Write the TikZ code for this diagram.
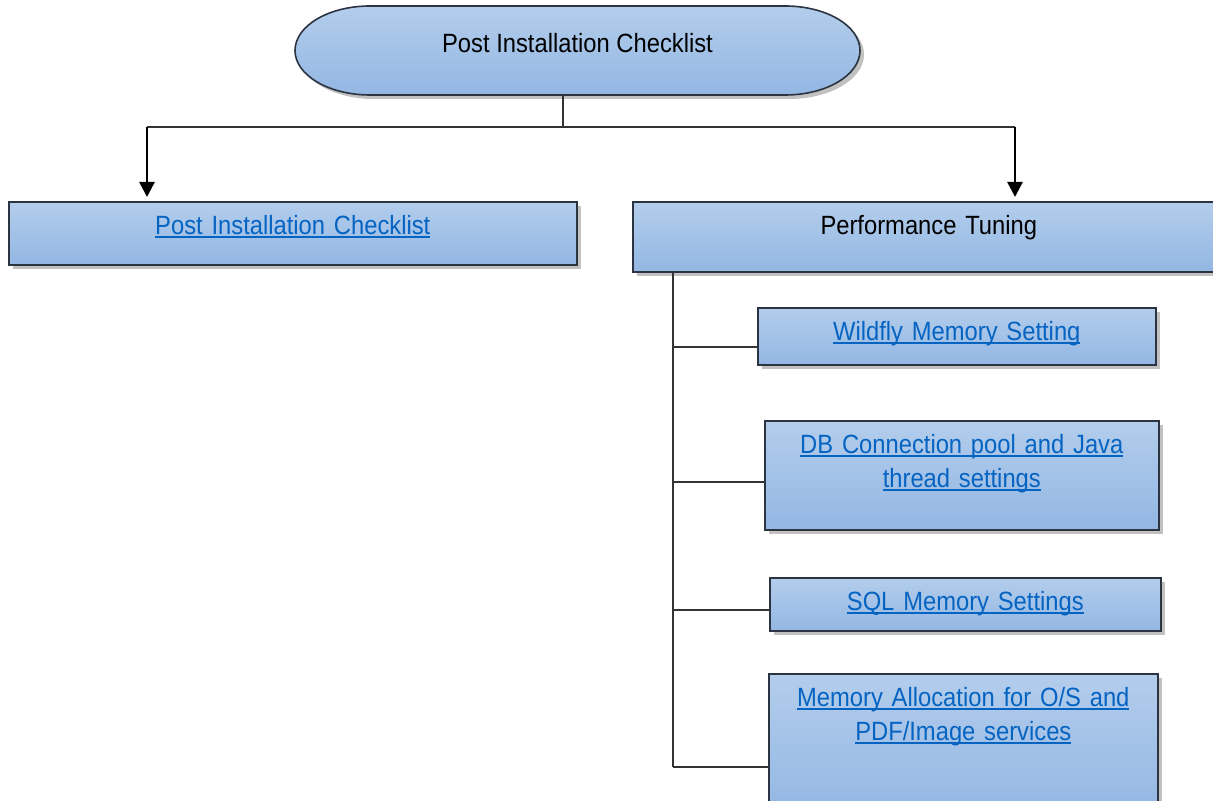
\documentclass[tikz,border=0pt]{standalone}
\usepackage{fontspec}
\setmainfont[FakeStretch=0.9]{Liberation Sans}
\usepackage{xcolor}
\usetikzlibrary{positioning, calc, arrows.meta, shadows}

\definecolor{boxtop}{HTML}{B3CDEC}
\definecolor{boxbot}{HTML}{93B7E3}
\definecolor{boxedge}{HTML}{2B3440}
\definecolor{linkblue}{HTML}{0563C1}

% underlined link text
\newsavebox{\lnkbox}
\newcommand{\lnk}[1]{\leavevmode\sbox{\lnkbox}{#1}\rlap{\rule[-1.6pt]{\wd\lnkbox}{0.9pt}}\usebox{\lnkbox}}

\begin{document}
\begin{tikzpicture}[x=0.5pt, y=-0.5pt,
  boxfill/.style={draw=boxedge, line width=0.8pt, top color=boxtop, bottom color=boxbot,
    drop shadow={shadow xshift=2pt, shadow yshift=-2pt, opacity=0.35, fill=black!70}},
  box/.style={boxfill, anchor=north west, inner sep=0pt, align=center, text height=16.5pt,
    font=\fontsize{13.2}{17}\selectfont},
  link/.style={text=linkblue},
  conn/.style={draw=black!80, line width=0.75pt},
  arr/.style={line width=1.25pt, -{Triangle[length=7.5pt, width=7.5pt]}, shorten >=2pt}]

    \useasboundingbox (0,0) rectangle (1213,801);

    % Top node
    \path[boxfill] (370,6) -- (785,6) arc[start angle=90, end angle=-90, x radius=37.5pt, y radius=22.25pt]
        -- (370,95) arc[start angle=270, end angle=90, x radius=37.5pt, y radius=22.25pt] -- cycle;
    \node[anchor=north, inner sep=0pt, text height=23pt, text depth=21.5pt,
        font=\fontsize{13.2}{17}\selectfont] (title) at (577.5,6) {Post Installation Checklist};

    % Second level
    \node[box, link, text width=284pt, text depth=15pt] (pic) at (8,201) {\lnk{Post Installation Checklist}};
    \node[box, text width=296pt, text depth=18.5pt] (perf) at (632,201) {Performance Tuning};

    % Performance tuning items
    \node[box, link, text width=199pt, text depth=12pt] (wms) at (757,307) {\lnk{Wildfly Memory Setting}};
    \node[box, link, text width=197pt, text depth=38pt] (dbcp) at (764,420)
        {\lnk{DB Connection pool and Java}\\\lnk{thread settings}};
    \node[box, link, text width=195.5pt, text depth=10pt] (sqlm) at (769,577) {\lnk{SQL Memory Settings}};
    \node[box, link, text width=194.5pt, text depth=53.5pt] (memalloc) at (768,673)
        {\lnk{Memory Allocation for O/S and}\\\lnk{PDF/Image services}};

    % Trunk and arrows
    \coordinate (split) at (563,127);
    \coordinate (lsplit) at (147,127);
    \coordinate (rsplit) at (1015,127);
    \draw[conn] (split |- title.south) -- (split);
    \draw[conn] (lsplit) -- (rsplit);
    \draw[arr] (lsplit) -- (lsplit |- pic.north);
    \draw[arr] (rsplit) -- (rsplit |- perf.north);

    % Spine and branches
    \coordinate (spine) at (673,0);
    \draw[conn] (spine |- perf.south) -- (spine |- 0,767);
    \foreach \b/\y in {wms/347, dbcp/482, sqlm/610, memalloc/767}
        \draw[conn] (spine |- 0,\y) -- (\b.west |- 0,\y);

\end{tikzpicture}
\end{document}
